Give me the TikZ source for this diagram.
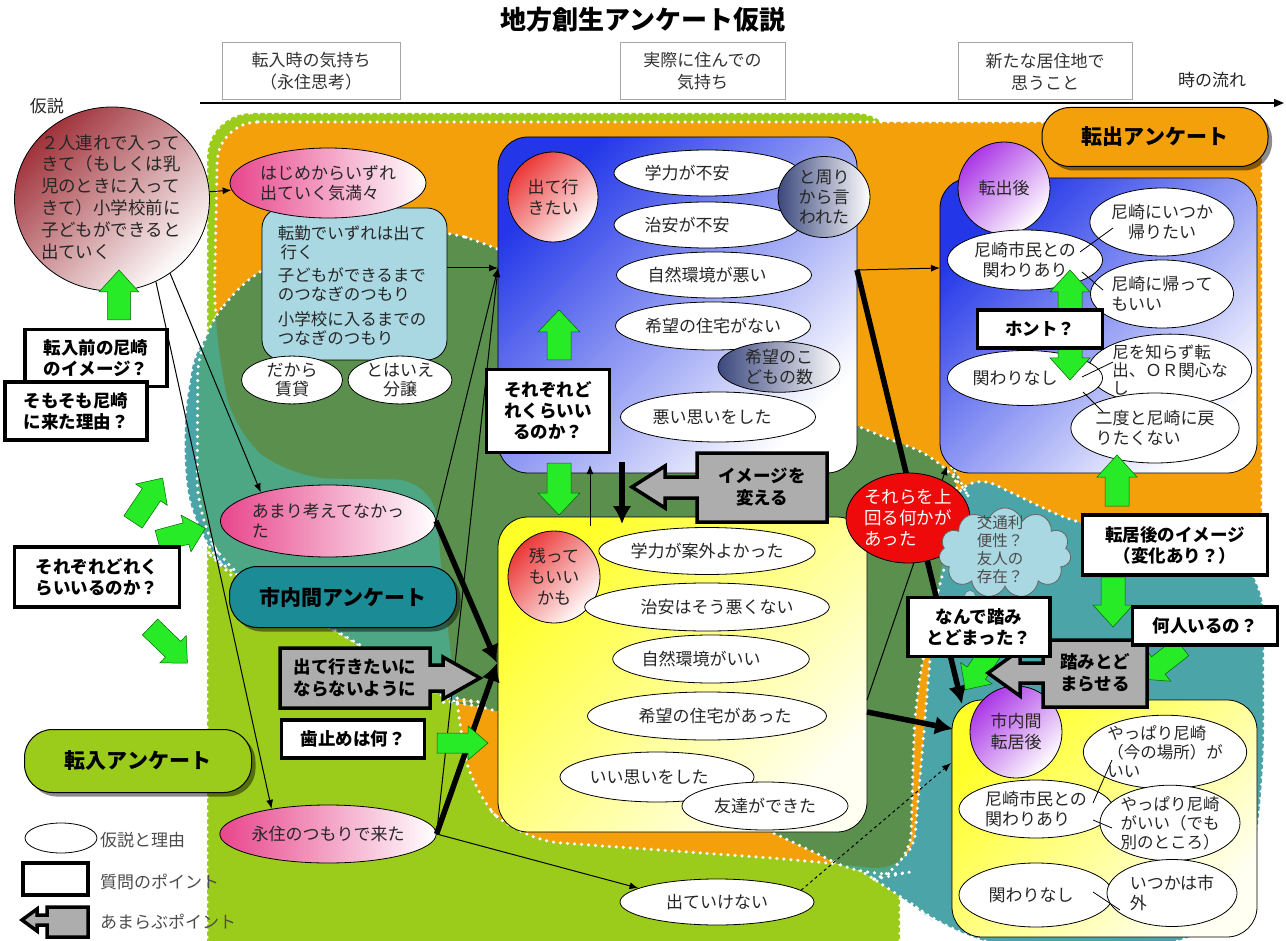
\documentclass[tikz,border=0pt]{standalone}
\usepackage{fontspec}
\setmainfont{Noto Sans CJK JP}
\usetikzlibrary{shapes.geometric,shapes.symbols,arrows.meta,shadows}
\definecolor{cLime}{RGB}{155,203,27}
\definecolor{cOrange}{RGB}{243,160,10}
\definecolor{cTeal}{RGB}{75,164,168}
\definecolor{cDkGreen}{RGB}{90,143,78}
\definecolor{cBand}{RGB}{77,166,132}
\definecolor{cPillTeal}{RGB}{27,140,150}
\definecolor{cLightBlue}{RGB}{170,216,226}
\definecolor{cGreenArrow}{RGB}{40,235,40}
\definecolor{cBlue}{RGB}{35,55,232}
\definecolor{cYellow}{RGB}{255,255,40}
\definecolor{cPink}{RGB}{232,70,140}
\definecolor{cRedC}{RGB}{235,55,55}
\definecolor{cPurple}{RGB}{170,55,230}
\definecolor{cSlate}{RGB}{60,72,125}
\definecolor{cHyp}{RGB}{160,50,58}
\definecolor{cCloud}{RGB}{170,216,226}
\definecolor{cRed}{RGB}{238,10,10}
\newcommand\fs[2]{\fontsize{#1}{#2}\selectfont}
\newcommand\greenarrow[6]{\begin{scope}[shift={(#1)}, rotate=#2]
\filldraw[garrowsty] (0,-#4) -- ({#3-#6},-#4) -- ({#3-#6},-#5) -- (#3,0) -- ({#3-#6},#5) -- ({#3-#6},#4) -- (0,#4) -- cycle;
\end{scope}}
\def\limepath{(207,113) -- (900,113) -- (900,1000) -- (207,1000) -- cycle}
\def\tealpath{(180,440) -- (200,320) -- (600,215) -- (1000,420) -- (1264,565) -- (1264,780) -- (1245,920) -- (1100,965) -- (950,935) -- (895,890) -- (700,780) -- (445,702) -- (363,645) -- (233,577) -- (195,540) -- cycle}
\def\orangepath{(218,122) -- (1262,122) -- (1262,548) -- (1085,528) -- (960,468) -- (935,600) -- (912,872) -- (800,860) -- (520,840) -- (470,790) -- (455,690) -- (440,560) -- (435,480) -- (290,478) -- (232,430) -- (214,320) -- cycle}
\def\dkpath{(198,335) -- (262,262) -- (430,226) -- (500,248) -- (857,427) -- (950,462) -- (966,492) -- (935,600) -- (915,700) -- (910,872) -- (870,880) -- (800,845) -- (480,702) -- (445,702) -- (363,645) -- (233,577) -- (197,520) -- cycle}
\tikzset{
 txt/.style={font=\fs{17}{21}, inner sep=0pt, align=center, text=black!85},
 ell/.style={ellipse, draw=black, line width=0.8pt, fill=white, inner sep=0pt, align=center, font=\fs{17}{20}, text=black!85},
 qbox/.style={rectangle, draw=black, line width=3.5pt, fill=white, inner sep=0pt, align=center, font=\bfseries\fs{17.5}{21}},
 hbox/.style={rectangle, draw=gray!70, line width=1pt, fill=white, inner sep=0pt, align=center, font=\fs{17}{22}, text=black!80},
 pill/.style={rectangle, rounded corners=28pt, draw=black, line width=1pt, inner sep=0pt, font=\bfseries\fs{21}{24}, drop shadow={shadow xshift=4pt, shadow yshift=-4pt, opacity=0.45, fill=black}},
 bigbox/.style={rectangle, rounded corners=30pt, draw=black, line width=0.8pt, inner sep=0pt},
 garrowsty/.style={fill=cGreenArrow, draw=green!40!black, line width=0.5pt},
 grayarr/.style={fill=black!32, draw=black, line width=3.5pt, line join=miter},
 conn/.style={draw=black, line width=1pt, -{Latex[length=9pt,width=7pt]}},
 bigconn/.style={draw=black, line width=5.5pt, -{Latex[length=18pt,width=19pt]}},
 region/.style={draw=white, line width=3.5pt, line cap=round, dash pattern=on 0pt off 7pt},
}
\begin{document}
\begin{tikzpicture}[x=1pt,y=-1pt]
\useasboundingbox (0,0) rectangle (1286,941);
\fill[white] (0,0) rectangle (1286,941);
% ---------- background regions
\begin{scope}
\clip (0,0) rectangle (1286,941);
\fill[cLime, rounded corners=45pt] \limepath;
\draw[region, rounded corners=45pt] \limepath;
\fill[cTeal, rounded corners=50pt] \tealpath;
\draw[region, rounded corners=50pt] \tealpath;
\fill[cOrange, rounded corners=40pt] \orangepath;
\draw[region, rounded corners=40pt] \orangepath;
\begin{scope}
\clip[rounded corners=40pt] \dkpath;
\fill[cBand] (0,0) rectangle (1286,941);
\fill[cDkGreen, rounded corners=40pt] \orangepath;
\end{scope}
\draw[region, rounded corners=40pt] \dkpath;
\end{scope}
% ---------- title and time line
\node[font=\bfseries\fs{26}{30}] (title) at (643,20) {地方創生アンケート仮説};
\node[hbox, minimum width=178, minimum height=57] (h1) at (311,71.5) {転入時の気持ち\\（永住思考）};
\node[hbox, minimum width=165, minimum height=57] (h2) at (702.5,71.5) {実際に住んでの\\気持ち};
\node[hbox, minimum width=174, minimum height=57] (h3) at (1045,71.5) {新たな居住地で\\思うこと};
\node[txt] (flow) at (1212,80) {時の流れ};
\coordinate (tl0) at (200,103);
\coordinate (tl1) at (1284,103);
\draw[line width=1.5pt, -{Triangle[length=10pt,width=8pt]}] (tl0) -- (tl1);
\node[txt] (kasetsu) at (47,106) {仮説};
% ---------- big boxes
\node[bigbox, minimum width=359, minimum height=336, top color=cBlue, middle color=cBlue!32!white, bottom color=white, shading angle=45] (bluebox) at (677.5,305) {};
\node[bigbox, minimum width=369, minimum height=315, top color=cYellow, middle color=cYellow!30!white, bottom color=cYellow!6!white, shading angle=45] (yelbox) at (682.5,674.5) {};
\node[bigbox, rounded corners=20pt, fill=cLightBlue, minimum width=185, minimum height=152] (tenkin) at (354.5,284) {};
\node[bigbox, minimum width=317, minimum height=295, top color=cBlue, middle color=cBlue!32!white, bottom color=white, shading angle=45] (bluebox2) at (1098.5,325.5) {};
\node[bigbox, minimum width=305, minimum height=237, top color=cYellow, middle color=cYellow!30!white, bottom color=cYellow!6!white, shading angle=45] (yelbox2) at (1104.5,818.5) {};
% ---------- left column
\node[ellipse, draw=black, line width=0.8pt, minimum width=195, minimum height=184, inner sep=0pt, top color=cHyp, middle color=cHyp!30!white, bottom color=white, shading angle=45] (hyp) at (112,199) {};
\node[txt, align=left, font=\fs{17.5}{21.8}] (hyptxt) at (111,197) {２人連れで入って\\きて（もしくは乳\\児のときに入って\\きて）小学校前に\\子どもができると\\出ていく};
\node[ell, minimum width=196, minimum height=70, left color=cPink, right color=white, align=left] (hajime) at (328,183) {はじめからいずれ\\出ていく気満々};
\node[txt, align=left, font=\fs{16.5}{19}] (tenkintxt) at (352,286) {転勤でいずれは出て\\\,行く\\[4pt]子どもができるまで\\のつなぎのつもり\\[6pt]小学校に入るまでの\\つなぎのつもり};
\node[ell, minimum width=101, minimum height=46, font=\fs{17}{19}] (dakara) at (292,380) {だから\\賃貸};
\node[ell, minimum width=104, minimum height=46, font=\fs{17}{19}] (tohaie) at (400,380) {とはいえ\\分譲};
\node[ell, minimum width=196, minimum height=72, left color=cPink, right color=white, align=left] (amari) at (328,521) {あまり考えてなかっ\\た};
\node[ell, minimum width=196, minimum height=58, left color=cPink, right color=white] (eiju) at (328,834) {永住のつもりで来た};
\node[ell, minimum width=194, minimum height=46] (deteikenai) at (717,902) {出ていけない};
% ---------- connector end points
\coordinate (blueL) at (498,268);
\coordinate (yelL) at (497,663);
\coordinate (blueR) at (857,270);
\coordinate (blue2L) at (940,268);
\coordinate (yel2TL) at (962,704);
\coordinate (yelR) at (867,712);
\coordinate (yel2L) at (953,729);
\coordinate (yelR2) at (867,700);
\coordinate (blue2BL) at (947,466);
\coordinate (yel2Ld) at (951,763);
\coordinate (upA) at (590,526);
\coordinate (upB) at (590,465);
\coordinate (dnA) at (622,462);
\coordinate (dnB) at (622,524);
% ---------- connectors
\draw[conn] (hyp) -- (hajime);
\draw[conn] (hyp.-52) -- (amari.157);
\draw[conn] (hyp.-62) -- (eiju.156);
\draw[conn] (tenkin.east |- blueL) -- (blueL);
\draw[conn] (amari.east) -- (blueL);
\draw[conn] (eiju.east) -- (blueL);
\draw[bigconn] (amari.east) -- (yelL);
\draw[bigconn] (eiju.east) -- (yelL);
\draw[conn] (eiju.east) -- (deteikenai.170);
\draw[conn, dashed] (deteikenai.8) -- (yel2Ld);
\draw[conn] (blueR) -- (blue2L);
\draw[bigconn] (blueR) -- (yel2TL);
\draw[bigconn] (yelR) -- (yel2L);
\draw[conn] (yelR2) -- (blue2BL);
\draw[conn] (upA) -- (upB);
\draw[bigconn] (dnA) -- (dnB);
% ---------- blue box contents
\node[circle, draw=black, line width=0.8pt, minimum size=90, inner sep=0pt, top color=cRedC, bottom color=white, shading angle=45, align=center, font=\fs{17}{21}, text=black!85] (deteiki) at (553,197) {出て行\\きたい};
\node[ell, minimum width=186, minimum height=46] (b1) at (707,173) {学力が不安\hspace{40pt}};
\node[ell, minimum width=186, minimum height=46] (b2) at (707,225) {治安が不安\hspace{40pt}};
\node[ell, minimum width=195, minimum height=46] (b3) at (714,275) {自然環境が悪い\hspace{14pt}};
\node[ell, minimum width=195, minimum height=48] (b4) at (713,326) {希望の住宅がない};
\node[ell, minimum width=92, minimum height=81, left color=cSlate, right color=white, font=\fs{17}{20}] (mawari) at (824,197) {と周り\\から言\\われた};
\node[ell, minimum width=122, minimum height=50, left color=cSlate, right color=white, font=\fs{17}{20}] (kodomo) at (779,367) {希望のこ\\どもの数};
\node[ell, minimum width=195, minimum height=50] (b5) at (718,417) {悪い思いをした\hspace{12pt}};
% ---------- yellow box contents
\node[circle, draw=black, line width=0.8pt, minimum size=92, inner sep=0pt, top color=cRedC, bottom color=white, shading angle=45, align=center, font=\fs{17}{21}, text=black!85] (nokotte) at (554,577) {残って\\もいい\\かも};
\node[ell, minimum width=194, minimum height=47] (y1) at (707,551) {学力が案外よかった};
\node[ell, minimum width=194, minimum height=48] (y2) at (707,607) {\hspace{20pt}治安はそう悪くない};
\node[ell, minimum width=195, minimum height=48] (y3) at (711,659) {自然環境がいい\hspace{20pt}};
\node[ell, minimum width=194, minimum height=48] (y4) at (707,716) {\hspace{16pt}希望の住宅があった};
\node[ell, minimum width=194, minimum height=50] (y5) at (657,777) {いい思いをした\hspace{16pt}};
\node[ell, minimum width=166, minimum height=48] (y6) at (765,806) {友達ができた};
% ---------- right blue box contents
\node[circle, draw=black, line width=0.8pt, minimum size=92, inner sep=0pt, top color=cPurple, bottom color=white, shading angle=45, font=\fs{17}{21}, text=black!85] (tenshutsu) at (1004,188) {転出後};
\node[ell, minimum width=140, minimum height=68, font=\fs{17}{20}] (r2) at (1162,222) {尼崎にいつか\\帰りたい};
\node[ell, minimum width=155, minimum height=60, font=\fs{17}{20}] (r1) at (1025,260) {尼崎市民との\\関わりあり};
\node[ell, minimum width=140, minimum height=68, font=\fs{17}{20}, align=left] (r3) at (1162,294) {尼崎に帰って\\もいい};
\node[ell, minimum width=136, minimum height=54, font=\fs{16.5}{18}, align=left] (r5) at (1170,370) {尼を知らず転\\出、ＯＲ関心な\\し};
\node[ell, minimum width=164, minimum height=70, font=\fs{17}{20}, align=left] (r6) at (1155,428) {二度と尼崎に戻\\りたくない};
\node[ell, minimum width=155, minimum height=55, font=\fs{17}{20}] (r4) at (1025,378) {関わりなし\hspace{20pt}};
\filldraw[garrowsty] (1070,270) -- (1090,292) -- (1082,292) -- (1082,358) -- (1090,358) -- (1070,380) -- (1050,358) -- (1058,358) -- (1058,292) -- (1050,292) -- cycle;
\node[qbox, minimum width=125, minimum height=38] (honto) at (1040,329) {ホント？};
\draw[line width=0.8pt] (1080,252) -- (1113,228);
\draw[line width=0.8pt] (1082,272) -- (1103,290);
\draw[line width=0.8pt] (1082,377) -- (1113,362);
\draw[line width=0.8pt] (1083,392) -- (1103,412);
% ---------- right yellow box contents
\node[circle, draw=black, line width=0.8pt, minimum size=92, inner sep=0pt, top color=cPurple, bottom color=white, shading angle=45, align=center, font=\fs{17}{21}, text=black!85] (shinaiC) at (1016,732) {市内間\\転居後};
\node[ell, minimum width=144, minimum height=70, font=\fs{16.5}{19}, align=left] (s1) at (1165,752) {やっぱり尼崎\\（今の場所）が\\いい};
\node[ell, minimum width=154, minimum height=58, font=\fs{17}{20}, align=left] (s2) at (1036,809) {尼崎市民との\\関わりあり};
\node[ell, minimum width=134, minimum height=70, font=\fs{16.5}{19}, align=left] (s3) at (1170,823) {やっぱり尼崎\\がいい（でも\\別のところ）};
\node[ell, minimum width=154, minimum height=64, font=\fs{17}{20}] (s4) at (1036,895) {関わりなし\hspace{10pt}};
\node[ell, minimum width=130, minimum height=67, font=\fs{17}{20}, align=left] (s5) at (1172,893) {いつかは市\\外};
\draw[line width=0.8pt] (1093,803) -- (1112,760);
\draw[line width=0.8pt] (1093,820) -- (1112,828);
\draw[line width=0.8pt] (1093,892) -- (1120,910);
% ---------- red ellipse and cloud
\node[ellipse, draw=black, line width=0.8pt, fill=cRed, minimum width=124, minimum height=90, inner sep=0pt, align=left, font=\fs{17.5}{21}, text=white] (uwamawaru) at (908,518) {それらを上\\回る何かが\\あった};
\node[cloud, cloud puffs=11, aspect=1.4, draw=black!60, line width=0.8pt, fill=cCloud, minimum width=132, minimum height=90, inner sep=0pt] (cloud) at (1005,553) {};
\node[txt, align=left, font=\fs{15.5}{18}, text=black!70] (cloudtxt) at (1000,550) {交通利\\便性？\\友人の\\存在？};
\node[circle, draw=black!60, fill=cCloud, minimum size=11, inner sep=0pt] (bub1) at (970,596) {};
\node[circle, draw=black!60, fill=cCloud, minimum size=7, inner sep=0pt] (bub2) at (962,605) {};
% ---------- green block arrows
\greenarrow{119,320}{90}{50}{11.5}{20}{22}
\greenarrow{133,522}{56}{53}{11}{19}{20}
\greenarrow{158,541}{15}{49}{11}{19}{20}
\greenarrow{150,627}{-44}{52}{11}{19}{20}
\greenarrow{559,360}{90}{50}{12}{21}{22}
\greenarrow{559,463}{-90}{52}{12}{21}{22}
\greenarrow{437,743}{0}{51}{10}{17}{20}
\greenarrow{1117,506}{90}{51}{12}{20}{22}
\greenarrow{1113,577}{-90}{50}{12}{20}{22}
\greenarrow{1182,647}{218}{52}{11}{20}{22}
\greenarrow{992,650}{236}{48}{11}{19}{20}
% ---------- amarabu (gray) arrows
\draw[grayarr] (827,453) -- (697,453) -- (697,477) -- (665,477) -- (665,466) -- (632,487) -- (665,508) -- (665,498) -- (697,498) -- (697,522) -- (827,522) -- cycle;
\node[txt, font=\bfseries\fs{17.5}{22}, text=black] (imeji) at (762,487) {イメージを\\変える};
\draw[grayarr] (280,648) -- (430,648) -- (430,665) -- (443,665) -- (443,657) -- (480,678) -- (443,699) -- (443,691) -- (430,691) -- (430,708) -- (280,708) -- cycle;
\node[txt, font=\bfseries\fs{17.5}{22}, text=black] (denai) at (355,678) {出て行きたいに\\ならないように};
\draw[grayarr] (1147,640) -- (1043,640) -- (1043,663) -- (1020,663) -- (1020,650) -- (988,673) -- (1020,696) -- (1020,683) -- (1043,683) -- (1043,707) -- (1147,707) -- cycle;
\node[txt, font=\bfseries\fs{17.5}{22}, text=black] (fumi) at (1095,673) {踏みとど\\まらせる};
% ---------- question boxes
\node[qbox, minimum width=142, minimum height=57] (q1) at (96,358) {転入前の尼崎\\のイメージ？};
\node[qbox, minimum width=142, minimum height=58] (q2) at (76,411) {そもそも尼崎\\に来た理由？};
\node[qbox, minimum width=165, minimum height=60] (q3) at (97,577) {それぞれどれく\\らいいるのか？};
\node[qbox, minimum width=123, minimum height=83] (q4) at (548,411) {それぞれど\\れくらいい\\るのか？};
\node[qbox, minimum width=143, minimum height=38] (q5) at (353,739) {歯止めは何？};
\node[qbox, minimum width=185, minimum height=60] (q7) at (1175,545) {転居後のイメージ\\（変化あり？）};
\node[qbox, minimum width=145, minimum height=38] (q8) at (1205,626) {何人いるの？};
\node[qbox, minimum width=142, minimum height=59] (q9) at (979,627) {なんで踏み\\とどまった？};
% ---------- survey pills
\node[pill, fill=cLime, minimum width=227, minimum height=63] (tennyu) at (138,761) {転入アンケート};
\node[pill, fill=cPillTeal, minimum width=227, minimum height=61] (shinai) at (343,597) {市内間アンケート};
\node[pill, fill=cOrange, minimum width=226, minimum height=59] (tenshutsuP) at (1155,137) {転出アンケート};
% ---------- legend
\node[ell, minimum width=72, minimum height=30] (legE) at (61,838) {};
\node[txt, anchor=west, text=black!70] (legEt) at (100,840) {仮説と理由};
\node[qbox, minimum width=65, minimum height=32] (legQ) at (55.5,879) {};
\node[txt, anchor=west, text=black!70] (legQt) at (100,882) {質問のポイント};
\draw[grayarr] (88,907) -- (47,907) -- (47,915) -- (37,915) -- (37,909) -- (22,920) -- (37,931) -- (37,925) -- (47,925) -- (47,937) -- (88,937) -- cycle;
\node[txt, anchor=west, text=black!70] (legAt) at (100,922) {あまらぶポイント};
\end{tikzpicture}
\end{document}
